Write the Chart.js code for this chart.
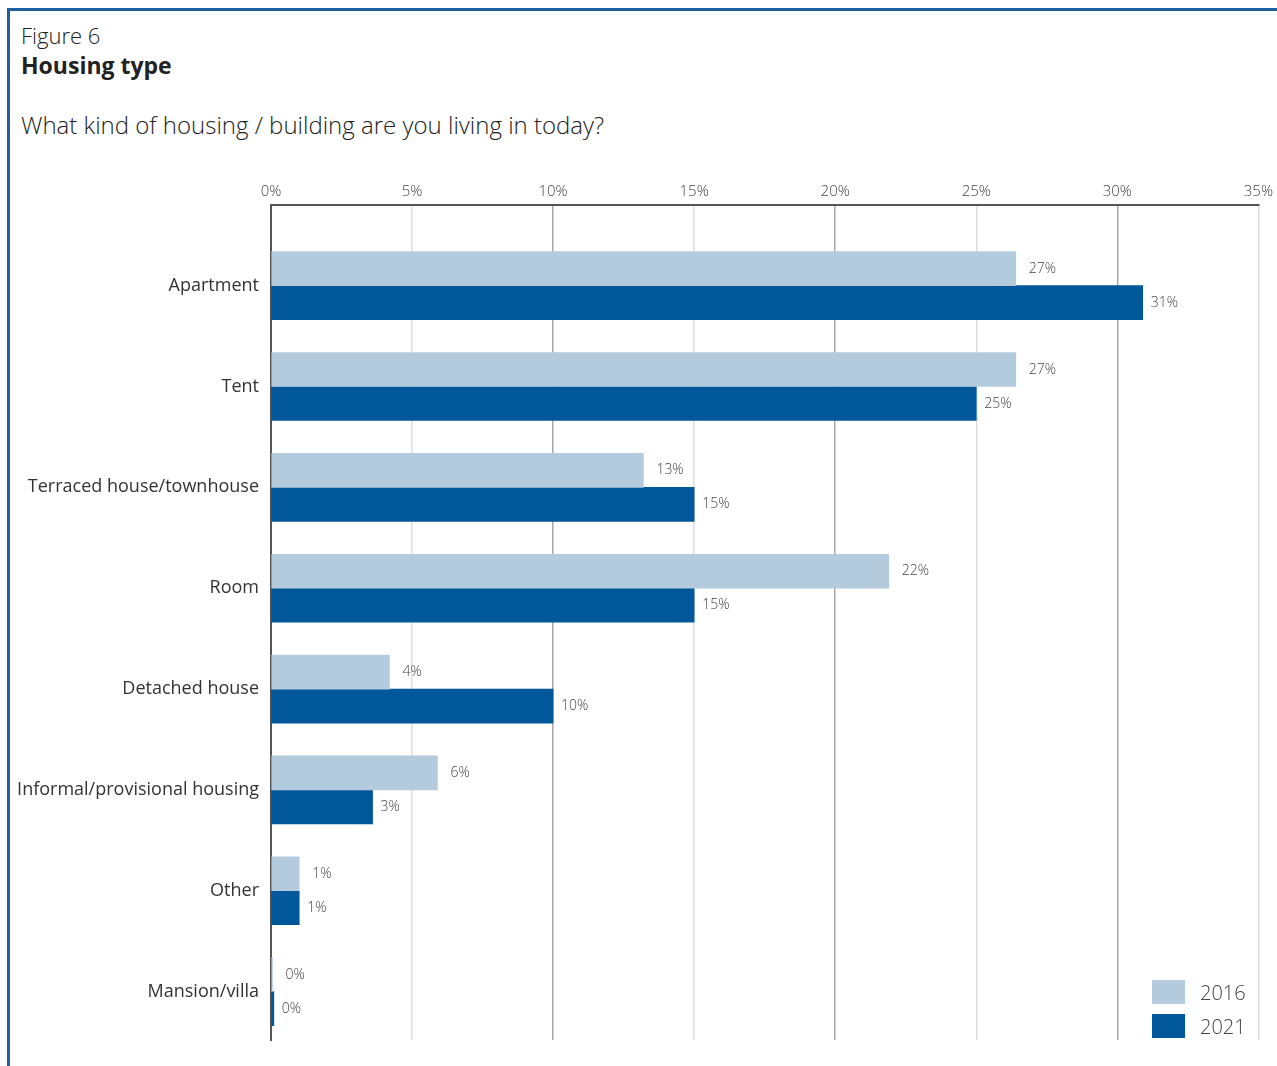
<!DOCTYPE html>
<html>
<head>
<meta charset="utf-8">
<script src="https://cdn.jsdelivr.net/npm/chart.js@4.4.1/dist/chart.umd.min.js"></script>
<style>
  body { margin: 0; background: #fff; font-family: "Open Sans", sans-serif; color: #333; }
  #page { position: relative; width: 1277px; height: 1066px; overflow: hidden; }
  #frame { position: absolute; left: 7px; top: 8px; right: -5px; bottom: -5px;
           border-left: 3px solid #1f5f9f; border-top: 3px solid #1f5f9f; }
  .txt { position: absolute; left: 21px; white-space: nowrap; }
  #fig { top: 20px; font-size: 22px; font-weight: 300; color: #222; }
  #ttl { top: 49px; font-size: 23px; font-weight: 700; color: #222; }
  #sub { top: 108px; font-size: 24px; font-weight: 300; color: #222; }
  #chart { position: absolute; left: 0; top: 0; }
  #legend { position: absolute; left: 1152px; top: 980px; }
  .item { display: flex; align-items: center; height: 24px; margin-bottom: 10px; }
  .sw { width: 33px; height: 24px; margin-right: 15px; }
  .lab { font-size: 20px; color: #444; font-weight: 300; }
</style>
</head>
<body>
<div id="page">
  <div id="frame"></div>
  <div class="txt" id="fig">Figure 6</div>
  <div class="txt" id="ttl">Housing type</div>
  <div class="txt" id="sub">What kind of housing / building are you living in today?</div>
  <canvas id="chart" width="1277" height="1066"></canvas>
  <div id="legend"></div>
</div>
<script>
const categories = ["Apartment", "Tent", "Terraced house/townhouse", "Room",
  "Detached house", "Informal/provisional housing", "Other", "Mansion/villa"];
const values2016 = [26.4, 26.4, 13.2, 21.9, 4.2, 5.9, 1.0, 0.05];
const values2021 = [30.9, 25.0, 15.0, 15.0, 10.0, 3.6, 1.0, 0.1];
const labels2016 = ["27%", "27%", "13%", "22%", "4%", "6%", "1%", "0%"];
const labels2021 = ["31%", "25%", "15%", "15%", "10%", "3%", "1%", "0%"];
const xTicks = [0, 5, 10, 15, 20, 25, 30, 35];

const series = [
  { label: "2016", values: values2016, texts: labels2016, color: "#b4cbde", gap: 13 },
  { label: "2021", values: values2021, texts: labels2021, color: "#00589b", gap: 8 }
];

// percentage text to the right of each bar
const valueLabels = {
  id: "valueLabels",
  afterDatasetsDraw(chart) {
    const ctx = chart.ctx;
    ctx.save();
    ctx.font = "300 14px 'Open Sans', sans-serif";
    ctx.fillStyle = "#444";
    ctx.textBaseline = "middle";
    ctx.textAlign = "left";
    chart.data.datasets.forEach((ds, i) => {
      chart.getDatasetMeta(i).data.forEach((el, j) => {
        ctx.fillText(ds.texts[j], el.x + ds.gap, el.y);
      });
    });
    ctx.restore();
  }
};

const chart = new Chart(document.getElementById("chart"), {
  type: "bar",
  data: {
    datasets: series.map(s => ({
      label: s.label,
      data: s.values.map((v, i) => ({ x: v, y: i })),
      texts: s.texts,
      gap: s.gap,
      backgroundColor: s.color,
      barThickness: 34
    }))
  },
  options: {
    indexAxis: "y",
    responsive: false,
    animation: false,
    layout: { padding: { left: 0, top: 170, right: 15, bottom: 26 } },
    plugins: { legend: { display: false }, tooltip: { enabled: false } },
    scales: {
      x: {
        position: "top",
        min: 0, max: 35,
        afterBuildTicks: s => { s.ticks = xTicks.map(v => ({ value: v })); },
        afterFit: s => { s.height = 35; },
        ticks: { callback: v => v + "%", color: "#444", padding: 4,
                 font: { family: "Open Sans", size: 15, weight: 300 }, maxRotation: 0 },
        grid: { drawTicks: false, lineWidth: 1.5,
                color: c => (c.tick && c.tick.value % 10 === 0) ? "#a8a8a8" : "#dedede" },
        border: { display: true, color: "#555", width: 2 }
      },
      y: {
        type: "linear",
        reverse: true,
        offset: false,
        min: -0.8, max: 7.48,
        afterBuildTicks: s => { s.ticks = categories.map((c, i) => ({ value: i })); },
        afterFit: s => { s.width = 271; },
        ticks: { callback: v => categories[v], color: "#333", padding: 12,
                 font: { family: "Open Sans", size: 18, weight: 400 } },
        grid: { display: false, drawTicks: false },
        border: { display: true, color: "#555", width: 2 }
      }
    }
  },
  plugins: [valueLabels]
});

const legend = document.getElementById("legend");
series.forEach(s => {
  const d = document.createElement("div");
  d.className = "item";
  d.innerHTML = `<div class="sw" style="background:${s.color}"></div><span class="lab">${s.label}</span>`;
  legend.appendChild(d);
});
</script>
</body>
</html>
